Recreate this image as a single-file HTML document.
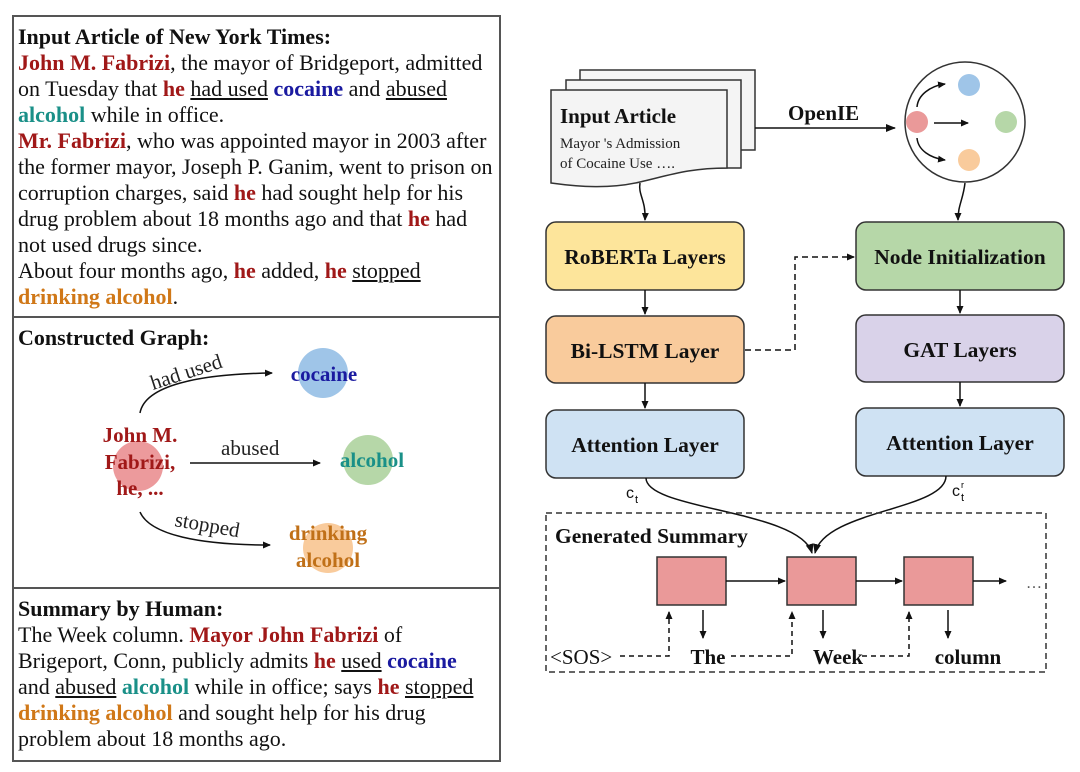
<!DOCTYPE html>
<html><head><meta charset="utf-8"><style>
body{margin:0;width:1080px;height:772px;background:#fff;position:relative;overflow:hidden;font-family:"Liberation Serif",serif;}
.box{position:absolute;left:12px;width:485px;border:2px solid #555;}
.t{position:absolute;left:18px;font-size:22px;line-height:26px;color:#111;white-space:nowrap;}
.r{color:#a01818;font-weight:bold}.b{color:#1a1aa0;font-weight:bold}.g{color:#1a9088;font-weight:bold}.o{color:#d07818;font-weight:bold}
u{text-decoration:underline;}
</style></head><body>
<div class="box" style="top:15px;height:743px;"></div>
<div style="position:absolute;left:12px;top:316px;width:489px;height:2px;background:#555"></div>
<div style="position:absolute;left:12px;top:587px;width:489px;height:2px;background:#555"></div>
<div class="t" style="top:24px"><b>Input Article of New York Times:</b><br>
<span class="r">John M. Fabrizi</span>, the mayor of Bridgeport, admitted<br>
on Tuesday that <span class="r">he</span> <u>had used</u> <span class="b">cocaine</span> and <u>abused</u><br>
<span class="g">alcohol</span> while in office.<br>
<span class="r">Mr. Fabrizi</span>, who was appointed mayor in 2003 after<br>
the former mayor, Joseph P. Ganim, went to prison on<br>
corruption charges, said <span class="r">he</span> had sought help for his<br>
drug problem about 18 months ago and that <span class="r">he</span> had<br>
not used drugs since.<br>
About four months ago, <span class="r">he</span> added, <span class="r">he</span> <u>stopped</u><br>
<span class="o">drinking alcohol</span>.</div>
<div class="t" style="top:325px"><b>Constructed Graph:</b></div>
<div class="t" style="top:596px"><b>Summary by Human:</b><br>
The Week column. <span class="r">Mayor John Fabrizi</span> of<br>
Brigeport, Conn, publicly admits <span class="r">he</span> <u>used</u> <span class="b">cocaine</span><br>
and <u>abused</u> <span class="g">alcohol</span> while in office; says <span class="r">he</span> <u>stopped</u><br>
<span class="o">drinking alcohol</span> and sought help for his drug<br>
problem about 18 months ago.</div>

<svg width="1080" height="772" style="position:absolute;left:0;top:0" font-family="Liberation Serif,serif">
<defs><marker id="a" markerWidth="8" markerHeight="8" refX="7" refY="4" orient="auto" markerUnits="userSpaceOnUse"><path d="M0,0.5 L8,4 L0,7.5z" fill="#111"/></marker>
<marker id="s" markerWidth="10" markerHeight="10" refX="9" refY="5" orient="auto" markerUnits="userSpaceOnUse"><path d="M0,1 L10,5 L0,9z" fill="#111"/></marker></defs>
<circle cx="138" cy="466" r="25" fill="#ec9a9c"/>
<circle cx="323" cy="373" r="25" fill="#9fc5e8"/>
<circle cx="368" cy="460" r="25" fill="#b6d7a8"/>
<circle cx="328" cy="548" r="25" fill="#f9cb9c"/>
<g font-weight="bold" font-size="21" text-anchor="middle">
<text x="140" y="442" fill="#a01818">John M.</text><text x="140" y="469" fill="#a01818">Fabrizi,</text><text x="140" y="495" fill="#a01818">he, ...</text>
<text x="324" y="381" fill="#1a1aa0">cocaine</text>
<text x="372" y="467" fill="#1a9088">alcohol</text>
<text x="328" y="540" fill="#c07018">drinking</text><text x="328" y="567" fill="#c07018">alcohol</text></g>
<path d="M140,413 C145,385 200,374 272,373" fill="none" stroke="#111" stroke-width="1.5" marker-end="url(#a)"/>
<path d="M190,463 L320,463" fill="none" stroke="#111" stroke-width="1.5" marker-end="url(#a)"/>
<path d="M140,512 C150,535 200,545 270,545" fill="none" stroke="#111" stroke-width="1.5" marker-end="url(#a)"/>
<g font-size="21" fill="#222"><text x="153" y="390" transform="rotate(-18 153 390)">had used</text>
<text x="221" y="455">abused</text><text x="174" y="526" transform="rotate(10 174 526)">stopped</text></g>
<rect x="580" y="70" width="175" height="80" fill="#f4f4f4" stroke="#333" stroke-width="1.5"/>
<rect x="566" y="80" width="175" height="88" fill="#f4f4f4" stroke="#333" stroke-width="1.5"/>
<path d="M551,90 L727,90 L727,168 C690,168 670,175 640,182 C610,189 580,187 551,183 Z" fill="#f4f4f4" stroke="#333" stroke-width="1.5"/>
<text x="560" y="123" font-size="21" font-weight="bold" fill="#111">Input Article</text>
<text x="560" y="148" font-size="15" fill="#222">Mayor 's Admission</text>
<text x="560" y="168" font-size="15" fill="#222">of Cocaine Use ….</text>
<path d="M755,128 L895,128" stroke="#111" stroke-width="1.5" marker-end="url(#s)"/>
<text x="788" y="120" font-size="21" font-weight="bold" fill="#111">OpenIE</text>
<circle cx="965" cy="122" r="60" fill="#fff" stroke="#333" stroke-width="1.5"/>
<circle cx="917" cy="122" r="11" fill="#ea9999"/><circle cx="969" cy="85" r="11" fill="#9fc5e8"/>
<circle cx="1006" cy="122" r="11" fill="#b6d7a8"/><circle cx="969" cy="160" r="11" fill="#f9cb9c"/>
<path d="M917,107 C918,95 930,86 945,84" fill="none" stroke="#111" stroke-width="1.5" marker-end="url(#a)"/>
<path d="M934,123 L968,123" stroke="#111" stroke-width="1.5" marker-end="url(#a)"/>
<path d="M917,138 C918,150 930,158 945,160" fill="none" stroke="#111" stroke-width="1.5" marker-end="url(#a)"/>
<path d="M640,183 C638,195 646,200 645,220" fill="none" stroke="#111" stroke-width="1.5" marker-end="url(#a)"/>
<path d="M965,183 C963,200 958,205 958,220" fill="none" stroke="#111" stroke-width="1.5" marker-end="url(#a)"/>
<g stroke="#333" stroke-width="1.5">
<rect x="546" y="222" width="198" height="68" rx="10" fill="#fde59b"/>
<rect x="546" y="316" width="198" height="67" rx="10" fill="#f9cb9c"/>
<rect x="546" y="410" width="198" height="68" rx="10" fill="#cfe2f3"/>
<rect x="856" y="222" width="208" height="68" rx="10" fill="#b6d7a8"/>
<rect x="856" y="315" width="208" height="67" rx="10" fill="#d9d2e9"/>
<rect x="856" y="408" width="208" height="68" rx="10" fill="#cfe2f3"/></g>
<g font-size="21.5" font-weight="bold" fill="#111" text-anchor="middle">
<text x="645" y="264">RoBERTa Layers</text><text x="645" y="358">Bi-LSTM Layer</text><text x="645" y="452">Attention Layer</text>
<text x="960" y="264">Node Initialization</text><text x="960" y="357">GAT Layers</text><text x="960" y="450">Attention Layer</text></g>
<g stroke="#111" stroke-width="1.5" fill="none">
<path d="M645,290 L645,314" marker-end="url(#a)"/><path d="M645,383 L645,408" marker-end="url(#a)"/>
<path d="M960,290 L960,313" marker-end="url(#a)"/><path d="M960,382 L960,406" marker-end="url(#a)"/>
<path d="M745,350 L795,350 L795,257 L854,257" stroke-dasharray="6,4" marker-end="url(#a)"/>
<path d="M646,478 C646,510 800,510 812,553" marker-end="url(#s)"/>
<path d="M946,476 C946,510 825,510 815,553" marker-end="url(#s)"/>
</g>
<text x="626" y="498" font-family="Liberation Sans,sans-serif" font-size="16" fill="#111">c</text><text x="635" y="503" font-family="Liberation Sans,sans-serif" font-size="11">t</text>
<text x="952" y="496" font-family="Liberation Sans,sans-serif" font-size="16" fill="#111">c</text><text x="961" y="501" font-family="Liberation Sans,sans-serif" font-size="11">t</text><text x="961" y="488" font-family="Liberation Sans,sans-serif" font-size="9">r</text>
<rect x="546" y="513" width="500" height="159" fill="none" stroke="#333" stroke-width="1.5" stroke-dasharray="6,4"/>
<text x="555" y="543" font-size="21.5" font-weight="bold" fill="#111">Generated Summary</text>
<g stroke="#333" stroke-width="1.5" fill="#ea9999">
<rect x="657" y="557" width="69" height="48"/><rect x="787" y="557" width="69" height="48"/><rect x="904" y="557" width="69" height="48"/></g>
<g stroke="#111" stroke-width="1.5" fill="none">
<path d="M726,581 L785,581" marker-end="url(#a)"/><path d="M856,581 L902,581" marker-end="url(#a)"/><path d="M973,581 L1006,581" marker-end="url(#a)"/>
<path d="M703,610 L703,638" marker-end="url(#a)"/><path d="M823,610 L823,638" marker-end="url(#a)"/><path d="M948,610 L948,638" marker-end="url(#a)"/>
<g stroke-dasharray="5,4"><path d="M620,656 L669,656 L669,612" marker-end="url(#a)"/><path d="M731,656 L792,656 L792,612" marker-end="url(#a)"/><path d="M862,656 L909,656 L909,612" marker-end="url(#a)"/></g>
</g>
<text x="1026" y="588" font-size="16" fill="#555">…</text>
<g font-size="21" fill="#111"><text x="550" y="664">&lt;SOS&gt;</text>
<text x="708" y="664" text-anchor="middle" font-weight="bold">The</text>
<text x="838" y="664" text-anchor="middle" font-weight="bold">Week</text>
<text x="968" y="664" text-anchor="middle" font-weight="bold">column</text></g>
</svg>
</body></html>
